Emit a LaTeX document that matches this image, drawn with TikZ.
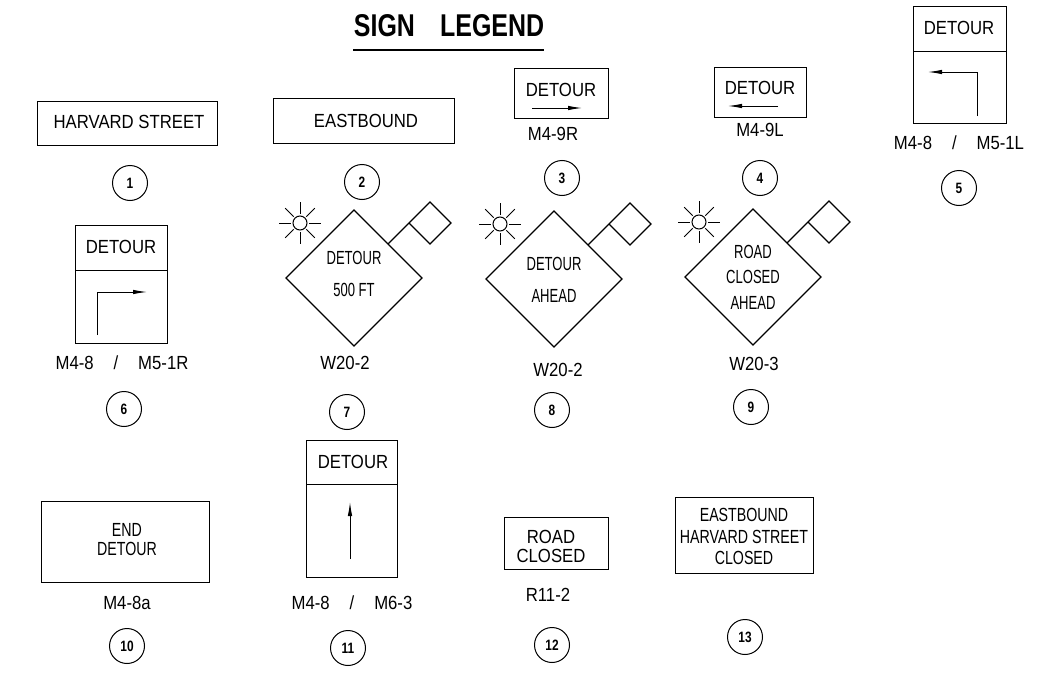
\documentclass[tikz,border=0pt]{standalone}
\usepackage{fontspec}
\setmainfont{Liberation Sans}[FakeStretch=0.88]
\usetikzlibrary{shapes.geometric,arrows.meta,calc}
\newcommand\cnd[1]{\scalebox{0.78}[1]{#1}}
\newcommand\cnb[1]{\scalebox{0.85}[1]{#1}}
\newcommand\nm[1]{\scalebox{0.9}[1]{#1}}
\newcommand\nsep{\hspace{1.05em}}
\begin{document}
\begin{tikzpicture}[x=1pt,y=-1pt,
  sgn/.style={draw, line width=0.9pt, inner sep=0pt, outer sep=0pt},
  txt/.style={font=\fontsize{19}{20}\selectfont, inner sep=0pt, align=center},
  lbl/.style={font=\fontsize{19}{20}\selectfont, inner sep=0pt},
  num/.style={draw, circle, line width=1pt, minimum size=35pt, inner sep=0pt, font=\bfseries\fontsize{15}{15}\selectfont},
  dia/.style={draw, diamond, line width=1.1pt, minimum width=136pt, minimum height=136pt, inner sep=0pt, outer sep=0pt},
  arr/.style={line width=0.9pt, -{Latex[length=14pt,width=4.5pt]}},
  thin/.style={line width=0.9pt},
]
\useasboundingbox (0,0) rectangle (1044,677);

% title
\node[font=\bfseries\fontsize{31.5}{32}\selectfont, inner sep=0pt] (title) at (449,26) {\scalebox{0.9}[1]{SIGN\hspace{28pt}LEGEND}};
\draw[line width=1.6pt] (353,50) -- (544,50);

% 1
\node[sgn, minimum width=180pt, minimum height=44pt] (b1) at (127,123) {};
\node[txt] (t1) at (129,122) {HARVARD STREET};
\node[num] (n1) at (130,183) {\nm{1}};

% 2
\node[sgn, minimum width=181pt, minimum height=45pt] (b2) at (363.5,120.5) {};
\node[txt] (t2) at (366,121) {EASTBOUND};
\node[num] (n2) at (362,182) {\nm{2}};

% 3
\node[sgn, minimum width=94pt, minimum height=50pt] (b3) at (561,93) {};
\node[txt] (t3) at (561,90) {DETOUR};
\coordinate (a3s) at (532,108); \coordinate (a3e) at (582,108);
\draw[arr] (a3s) -- (a3e);
\node[lbl] (l3) at (553,134) {M4-9R};
\node[num] (n3) at (562,178) {\nm{3}};

% 4
\node[sgn, minimum width=92pt, minimum height=50pt] (b4) at (760,92) {};
\node[txt] (t4) at (760,88) {DETOUR};
\coordinate (a4s) at (778,106); \coordinate (a4e) at (728,106);
\draw[arr] (a4s) -- (a4e);
\node[lbl] (l4) at (760,130) {M4-9L};
\node[num] (n4) at (760,178) {\nm{4}};

% 5
\node[sgn, minimum width=93pt, minimum height=117pt] (b5) at (959.5,64.5) {};
\draw[thin] (913,51) -- (1006,51);
\node[txt] (t5) at (959,28) {DETOUR};
\coordinate (a5s) at (977,116); \coordinate (a5m) at (977,72); \coordinate (a5e) at (928,72);
\draw[arr] (a5s) -- (a5m) -- (a5e);
\node[lbl] (l5) at (959,143) {M4-8\nsep/\nsep M5-1L};
\node[num] (n5) at (959,188) {\nm{5}};

% 6
\node[sgn, minimum width=92pt, minimum height=118pt] (b6) at (121,284) {};
\draw[thin] (75,270) -- (167,270);
\node[txt] (t6) at (121,247) {DETOUR};
\coordinate (a6s) at (97,335); \coordinate (a6m) at (97,292); \coordinate (a6e) at (147,292);
\draw[arr] (a6s) -- (a6m) -- (a6e);
\node[lbl] (l6) at (122,363) {M4-8\nsep/\nsep M5-1R};
\node[num] (n6) at (124,409) {\nm{6}};

% diamonds 7, 8, 9
\foreach \k/\cx/\cy in {7/354/278, 8/554/279, 9/753/277} {
  \node[dia] (d\k) at (\cx,\cy) {};
  \coordinate (p\k) at ($(d\k.north)!0.5!(d\k.east)$);
  \draw[line width=1.1pt] (p\k) -- ++(21,-21) -- ++(21,-21) -- ++(21,21) -- ++(-21,21) -- ++(-21,-21);
  \coordinate (sun\k) at ($(d\k.center)+(-54,-55)$);
  \draw[line width=1pt] (sun\k) circle (7);
  \foreach \a in {0,45,...,315} {
    \draw[line width=1pt] ($(sun\k)+(\a:9)$) -- ($(sun\k)+(\a:21)$);
  }
}
\node[txt, font=\fontsize{19}{32}\selectfont] (t7) at (354,274) {\cnd{DETOUR}\\\cnd{500 FT}};
\node[lbl] (l7) at (345,363) {W20-2};
\node[num] (n7) at (347,412) {\nm{7}};

\node[txt, font=\fontsize{19}{32}\selectfont] (t8) at (554,280) {\cnd{DETOUR}\\\cnd{AHEAD}};
\node[lbl] (l8) at (558,370) {W20-2};
\node[num] (n8) at (552,410) {\nm{8}};

\node[txt, font=\fontsize{19}{25.5}\selectfont] (t9) at (753,277) {\cnd{ROAD}\\\cnd{CLOSED}\\\cnd{AHEAD}};
\node[lbl] (l9) at (754,364) {W20-3};
\node[num] (n9) at (751,407) {\nm{9}};

% 10
\node[sgn, minimum width=168pt, minimum height=81pt] (b10) at (125,541.5) {};
\node[txt, font=\fontsize{19}{19}\selectfont] (t10) at (127,540) {\cnb{END}\\\cnb{DETOUR}};
\node[lbl] (l10) at (127,603) {M4-8a};
\node[num] (n10) at (127,646) {\nm{10}};

% 11
\node[sgn, minimum width=91pt, minimum height=137pt] (b11) at (351.5,508.5) {};
\draw[thin] (306,484) -- (397,484);
\node[txt] (t11) at (353,462) {DETOUR};
\coordinate (a11s) at (350,559); \coordinate (a11e) at (350,502);
\draw[arr] (a11s) -- (a11e);
\node[lbl] (l11) at (352,603) {M4-8\nsep/\nsep M6-3};
\node[num] (n11) at (348,648) {\nm{11}};

% 12
\node[sgn, minimum width=104pt, minimum height=52pt] (b12) at (556,543) {};
\node[txt, font=\fontsize{19}{19}\selectfont] (t12) at (551,546.5) {ROAD\\CLOSED};
\node[lbl] (l12) at (548,595) {R11-2};
\node[num] (n12) at (552,645) {\nm{12}};

% 13
\node[sgn, minimum width=138pt, minimum height=76pt] (b13) at (744,535) {};
\node[txt, font=\fontsize{19}{21.5}\selectfont] (t13) at (744,536.5) {\cnb{EASTBOUND}\\\cnb{HARVARD STREET}\\\cnb{CLOSED}};
\node[num] (n13) at (745,637) {\nm{13}};
\end{tikzpicture}
\end{document}
